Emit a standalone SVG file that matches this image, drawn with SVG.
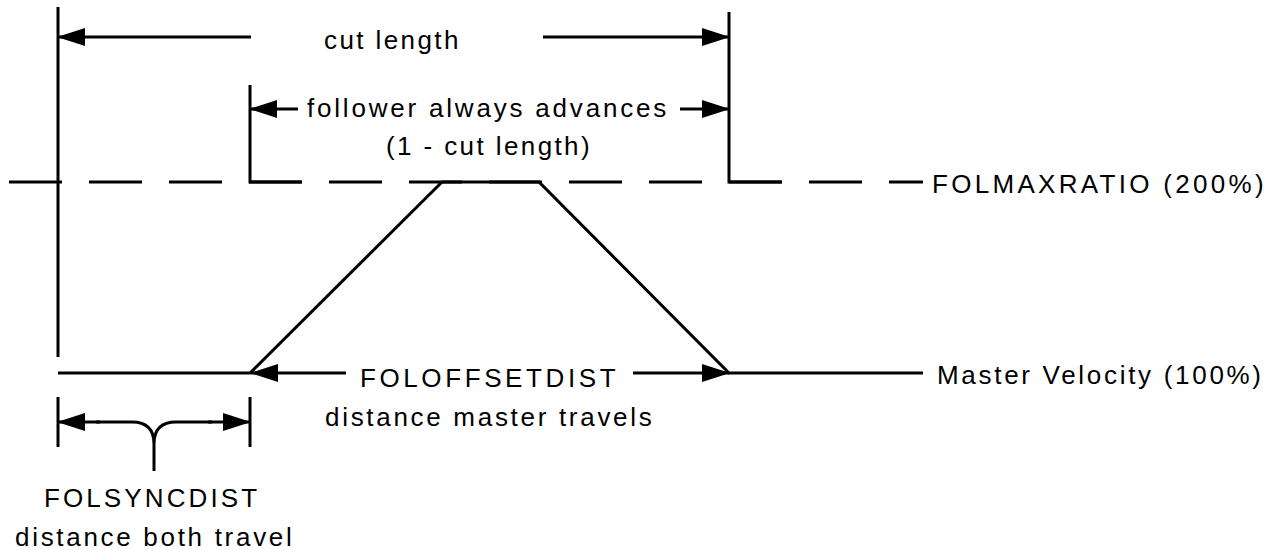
<svg xmlns="http://www.w3.org/2000/svg" width="1282" height="550" viewBox="0 0 1282 550">
<style>
  .ln { stroke: #000; stroke-width: 3; fill: none; stroke-linecap: butt; stroke-linejoin: miter; }
  .dash { stroke-dasharray: 53 27; }
  .arr { marker-end: url(#ah); }
  text { font-family: "Liberation Sans", Arial, Helvetica, sans-serif; font-size: 26px; fill: #000; letter-spacing: 2.7px; }
</style>
<defs>
  <marker id="ah" viewBox="0 0 28 18" refX="27" refY="9" markerWidth="28" markerHeight="18" markerUnits="userSpaceOnUse" orient="auto">
    <path d="M0 0 L28 9 L0 18 Z" fill="#000"/>
  </marker>
</defs>
<rect width="1282" height="550" fill="#fff"/>
<g id="connectors">
  <line class="ln" x1="58" y1="7" x2="58" y2="357"/>
  <polyline class="ln" points="250,85 250,182 302,182"/>
  <polyline class="ln" points="729,12 729,182 782,182"/>
  <line class="ln dash" x1="9" y1="182" x2="923" y2="182"/>
  <polyline class="ln" points="58,373 250,373 442,182 539,182 729,373 923,373"/>
  <line class="ln arr" x1="251" y1="37" x2="58" y2="37"/>
  <line class="ln arr" x1="543" y1="37" x2="729" y2="37"/>
  <line class="ln arr" x1="298" y1="109" x2="250" y2="109"/>
  <line class="ln arr" x1="680" y1="109" x2="729" y2="109"/>
  <line class="ln arr" x1="346" y1="373" x2="251" y2="373"/>
  <line class="ln arr" x1="633" y1="373" x2="729" y2="373"/>
  <line class="ln" x1="58" y1="397" x2="58" y2="447"/>
  <line class="ln" x1="250" y1="397" x2="250" y2="447"/>
  <line class="ln arr" x1="100" y1="422" x2="58" y2="422"/>
  <line class="ln arr" x1="208" y1="422" x2="250" y2="422"/>
  <path class="ln" d="M96 422 L132 422 Q154 422 154 444 L154 471 M154 444 Q154 422 176 422 L212 422"/>
</g>
<g id="label-cut-length">
  <text x="324" y="49" style="letter-spacing:2.4px">cut length</text>
</g>
<g id="label-follower">
  <text x="307" y="117" style="letter-spacing:2.8px">follower always advances</text>
  <text x="386" y="155" style="letter-spacing:2.4px">(1 - cut length)</text>
</g>
<g id="label-folmaxratio">
  <text x="932" y="193" style="letter-spacing:3.3px">FOLMAXRATIO (200%)</text>
</g>
<g id="label-master-velocity">
  <text x="937" y="384" style="letter-spacing:2.7px">Master Velocity (100%)</text>
</g>
<g id="label-foloffsetdist">
  <text x="360" y="387" style="letter-spacing:3.6px">FOLOFFSETDIST</text>
  <text x="325" y="426" style="letter-spacing:2.7px">distance master travels</text>
</g>
<g id="label-folsyncdist">
  <text x="44" y="507" style="letter-spacing:3.1px">FOLSYNCDIST</text>
  <text x="15" y="546" style="letter-spacing:2.7px">distance both travel</text>
</g>
</svg>
